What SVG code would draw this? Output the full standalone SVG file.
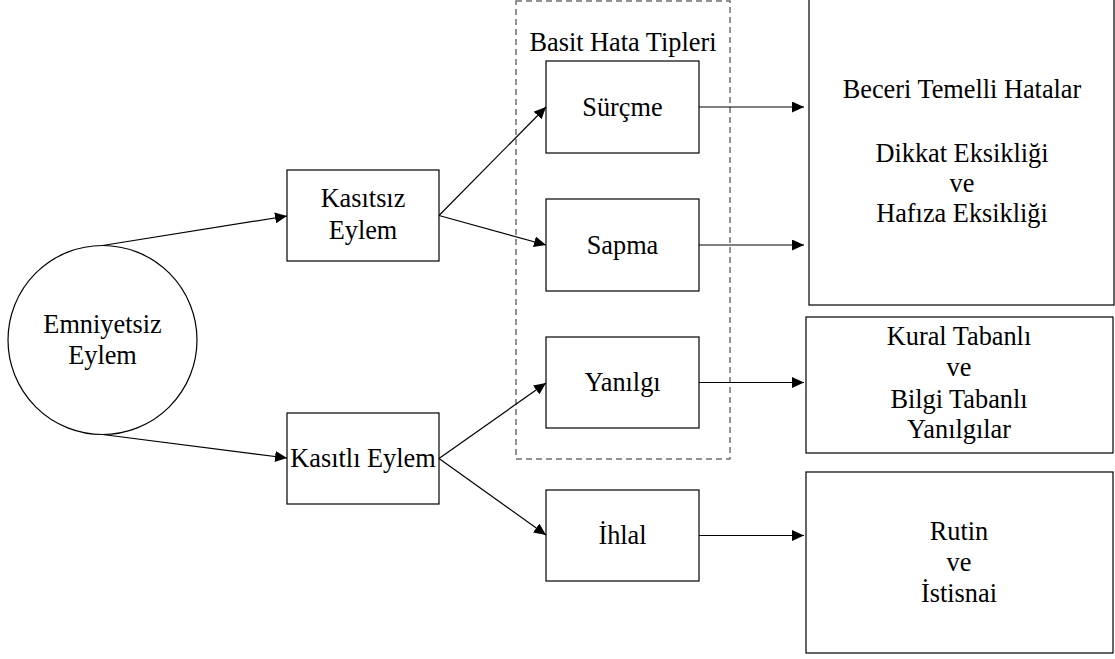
<svg xmlns="http://www.w3.org/2000/svg" width="1115" height="659" viewBox="0 0 1115 659">
  <style>
    .box { fill: #ffffff; stroke: #000000; stroke-width: 1.2; }
    .group { fill: none; stroke: #6e6e6e; stroke-width: 1.5; stroke-dasharray: 6 4; }
    .edge { fill: none; stroke: #000000; stroke-width: 1.2; }
    text { font-family: "Liberation Serif", "Times New Roman", serif; font-size: 26.3px; fill: #000000; text-anchor: middle; }
  </style>
  <defs>
    <marker id="arrow" viewBox="0 0 12 11" refX="12" refY="5.5" markerWidth="12" markerHeight="11" markerUnits="userSpaceOnUse" orient="auto">
      <path d="M0,0 L12,5.5 L0,11 Z" fill="#000000"/>
    </marker>
  </defs>

  <rect width="1115" height="659" fill="#ffffff"/>

  <!-- dashed grouping frame -->
  <g id="basit-hata-tipleri">
    <rect class="group" x="516" y="1" width="214" height="458"/>
    <text x="623" y="51">Basit Hata Tipleri</text>
  </g>

  <g id="emniyetsiz-eylem">
    <circle class="box" cx="102.5" cy="340" r="94.5"/>
    <text x="102.5" y="333">Emniyetsiz</text>
    <text x="102.5" y="364">Eylem</text>
  </g>

  <g id="kasitsiz-eylem">
    <rect class="box" x="287" y="170" width="152" height="91"/>
    <text x="363" y="207">Kasıtsız</text>
    <text x="363" y="239">Eylem</text>
  </g>

  <g id="kasitli-eylem">
    <rect class="box" x="287" y="413" width="152" height="91"/>
    <text x="363" y="467">Kasıtlı Eylem</text>
  </g>

  <g id="surcme">
    <rect class="box" x="546" y="61" width="153" height="92"/>
    <text x="622.5" y="116">Sürçme</text>
  </g>

  <g id="sapma">
    <rect class="box" x="546" y="199" width="153" height="92"/>
    <text x="622.5" y="254">Sapma</text>
  </g>

  <g id="yanilgi">
    <rect class="box" x="546" y="337" width="153" height="91"/>
    <text x="622.5" y="391">Yanılgı</text>
  </g>

  <g id="ihlal">
    <rect class="box" x="546" y="490" width="153" height="91"/>
    <text x="622.5" y="544">İhlal</text>
  </g>

  <g id="beceri-temelli-hatalar">
    <rect class="box" x="809" y="-1" width="305" height="306"/>
    <text x="962" y="98">Beceri Temelli Hatalar</text>
    <text x="962" y="162">Dikkat Eksikliği</text>
    <text x="962" y="192">ve</text>
    <text x="962" y="222">Hafıza Eksikliği</text>
  </g>

  <g id="kural-bilgi-tabanli">
    <rect class="box" x="806" y="317" width="307" height="136"/>
    <text x="959" y="345">Kural Tabanlı</text>
    <text x="959" y="376">ve</text>
    <text x="959" y="408">Bilgi Tabanlı</text>
    <text x="959" y="438">Yanılgılar</text>
  </g>

  <g id="rutin-istisnai">
    <rect class="box" x="806" y="472" width="307" height="181"/>
    <text x="959" y="540">Rutin</text>
    <text x="959" y="571">ve</text>
    <text x="959" y="602">İstisnai</text>
  </g>

  <!-- connectors -->
  <g id="connectors">
    <line class="edge" x1="102.5" y1="245.5" x2="287" y2="216" marker-end="url(#arrow)"/>
    <line class="edge" x1="102.5" y1="434.5" x2="287" y2="458" marker-end="url(#arrow)"/>
    <line class="edge" x1="439" y1="215.5" x2="546" y2="107" marker-end="url(#arrow)"/>
    <line class="edge" x1="439" y1="215.5" x2="546" y2="245" marker-end="url(#arrow)"/>
    <line class="edge" x1="439" y1="458.5" x2="546" y2="383" marker-end="url(#arrow)"/>
    <line class="edge" x1="439" y1="458.5" x2="546" y2="535" marker-end="url(#arrow)"/>
    <line class="edge" x1="699" y1="107" x2="804" y2="107" marker-end="url(#arrow)"/>
    <line class="edge" x1="699" y1="245" x2="804" y2="245" marker-end="url(#arrow)"/>
    <line class="edge" x1="699" y1="382.5" x2="804" y2="382.5" marker-end="url(#arrow)"/>
    <line class="edge" x1="699" y1="535.5" x2="804" y2="535.5" marker-end="url(#arrow)"/>
  </g>
</svg>
